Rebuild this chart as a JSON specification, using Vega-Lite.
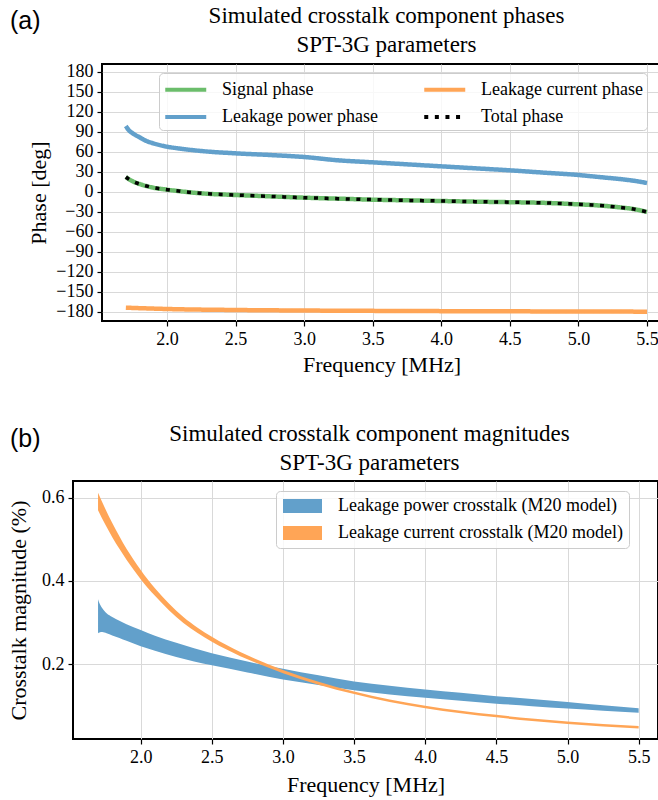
{
  "$schema": "https://vega.github.io/schema/vega-lite/v6.json",
  "padding": {"left": 3, "top": 3, "right": 0, "bottom": 5},
  "background": "white",
  "config": {
    "font": "Liberation Serif",
    "view": {"stroke": "black", "strokeWidth": 2},
    "axis": {"labelFont": "Liberation Serif", "labelFontSize": 18, "labelColor": "black", "titleFont": "Liberation Serif", "titleFontSize": 22, "titleFontWeight": "normal", "titleColor": "black", "domain": false, "tickColor": "black", "tickSize": 5, "tickWidth": 1.2, "gridColor": "#d9d9d9", "gridWidth": 1, "labelPadding": 4},
    "title": {"font": "Liberation Serif", "fontSize": 23, "fontWeight": "normal", "color": "black"},
    "legend": {"labelFont": "Liberation Serif", "labelFontSize": 18, "labelColor": "black", "labelLimit": 400, "fillColor": "rgba(255,255,255,0.8)", "strokeColor": "#cccccc", "cornerRadius": 4}
  },
  "datasets": {
    "phase": [
      {"f": 1.7, "series": "Signal phase", "phase": 22},
      {"f": 1.72, "series": "Signal phase", "phase": 19},
      {"f": 1.75, "series": "Signal phase", "phase": 15.5},
      {"f": 1.8, "series": "Signal phase", "phase": 11.5},
      {"f": 1.85, "series": "Signal phase", "phase": 8.5},
      {"f": 1.9, "series": "Signal phase", "phase": 6},
      {"f": 2.0, "series": "Signal phase", "phase": 3},
      {"f": 2.1, "series": "Signal phase", "phase": 0.5},
      {"f": 2.25, "series": "Signal phase", "phase": -2.5},
      {"f": 2.5, "series": "Signal phase", "phase": -5},
      {"f": 2.75, "series": "Signal phase", "phase": -7},
      {"f": 3.0, "series": "Signal phase", "phase": -9},
      {"f": 3.25, "series": "Signal phase", "phase": -10.5},
      {"f": 3.5, "series": "Signal phase", "phase": -12},
      {"f": 3.75, "series": "Signal phase", "phase": -13},
      {"f": 4.0, "series": "Signal phase", "phase": -14},
      {"f": 4.25, "series": "Signal phase", "phase": -15},
      {"f": 4.5, "series": "Signal phase", "phase": -15.8},
      {"f": 4.75, "series": "Signal phase", "phase": -16.8},
      {"f": 5.0, "series": "Signal phase", "phase": -19},
      {"f": 5.1, "series": "Signal phase", "phase": -20},
      {"f": 5.2, "series": "Signal phase", "phase": -21.5},
      {"f": 5.3, "series": "Signal phase", "phase": -23.5},
      {"f": 5.4, "series": "Signal phase", "phase": -26},
      {"f": 5.5, "series": "Signal phase", "phase": -30.5},
      {"f": 1.7, "series": "Total phase", "phase": 22},
      {"f": 1.72, "series": "Total phase", "phase": 19},
      {"f": 1.75, "series": "Total phase", "phase": 15.5},
      {"f": 1.8, "series": "Total phase", "phase": 11.5},
      {"f": 1.85, "series": "Total phase", "phase": 8.5},
      {"f": 1.9, "series": "Total phase", "phase": 6},
      {"f": 2.0, "series": "Total phase", "phase": 3},
      {"f": 2.1, "series": "Total phase", "phase": 0.5},
      {"f": 2.25, "series": "Total phase", "phase": -2.5},
      {"f": 2.5, "series": "Total phase", "phase": -5},
      {"f": 2.75, "series": "Total phase", "phase": -7},
      {"f": 3.0, "series": "Total phase", "phase": -9},
      {"f": 3.25, "series": "Total phase", "phase": -10.5},
      {"f": 3.5, "series": "Total phase", "phase": -12},
      {"f": 3.75, "series": "Total phase", "phase": -13},
      {"f": 4.0, "series": "Total phase", "phase": -14},
      {"f": 4.25, "series": "Total phase", "phase": -15},
      {"f": 4.5, "series": "Total phase", "phase": -15.8},
      {"f": 4.75, "series": "Total phase", "phase": -16.8},
      {"f": 5.0, "series": "Total phase", "phase": -19},
      {"f": 5.1, "series": "Total phase", "phase": -20},
      {"f": 5.2, "series": "Total phase", "phase": -21.5},
      {"f": 5.3, "series": "Total phase", "phase": -23.5},
      {"f": 5.4, "series": "Total phase", "phase": -26},
      {"f": 5.5, "series": "Total phase", "phase": -30.5},
      {"f": 1.7, "series": "Leakage power phase", "phase": 98.5},
      {"f": 1.72, "series": "Leakage power phase", "phase": 92.5},
      {"f": 1.75, "series": "Leakage power phase", "phase": 87.5},
      {"f": 1.8, "series": "Leakage power phase", "phase": 81.5},
      {"f": 1.85, "series": "Leakage power phase", "phase": 76},
      {"f": 1.9, "series": "Leakage power phase", "phase": 72.5},
      {"f": 2.0, "series": "Leakage power phase", "phase": 67.5},
      {"f": 2.1, "series": "Leakage power phase", "phase": 64.5},
      {"f": 2.25, "series": "Leakage power phase", "phase": 61},
      {"f": 2.5, "series": "Leakage power phase", "phase": 57.5},
      {"f": 2.75, "series": "Leakage power phase", "phase": 55},
      {"f": 3.0, "series": "Leakage power phase", "phase": 52},
      {"f": 3.25, "series": "Leakage power phase", "phase": 47},
      {"f": 3.5, "series": "Leakage power phase", "phase": 44},
      {"f": 3.75, "series": "Leakage power phase", "phase": 41},
      {"f": 4.0, "series": "Leakage power phase", "phase": 38},
      {"f": 4.25, "series": "Leakage power phase", "phase": 35},
      {"f": 4.5, "series": "Leakage power phase", "phase": 32},
      {"f": 4.75, "series": "Leakage power phase", "phase": 28.5},
      {"f": 5.0, "series": "Leakage power phase", "phase": 25},
      {"f": 5.1, "series": "Leakage power phase", "phase": 23},
      {"f": 5.2, "series": "Leakage power phase", "phase": 21},
      {"f": 5.3, "series": "Leakage power phase", "phase": 19},
      {"f": 5.4, "series": "Leakage power phase", "phase": 16.5},
      {"f": 5.5, "series": "Leakage power phase", "phase": 13},
      {"f": 1.7, "series": "Leakage current phase", "phase": -174},
      {"f": 2.0, "series": "Leakage current phase", "phase": -176},
      {"f": 2.5, "series": "Leakage current phase", "phase": -177.5},
      {"f": 3.0, "series": "Leakage current phase", "phase": -178.3},
      {"f": 3.5, "series": "Leakage current phase", "phase": -178.8},
      {"f": 4.0, "series": "Leakage current phase", "phase": -179.2},
      {"f": 4.5, "series": "Leakage current phase", "phase": -179.5},
      {"f": 5.0, "series": "Leakage current phase", "phase": -179.7},
      {"f": 5.5, "series": "Leakage current phase", "phase": -180}
    ],
    "mag": [
      {"f": 1.7, "series": "Leakage power crosstalk (M20 model)", "lo": 0.274, "hi": 0.356},
      {"f": 1.71, "series": "Leakage power crosstalk (M20 model)", "lo": 0.276, "hi": 0.346},
      {"f": 1.73, "series": "Leakage power crosstalk (M20 model)", "lo": 0.277, "hi": 0.334},
      {"f": 1.76, "series": "Leakage power crosstalk (M20 model)", "lo": 0.274, "hi": 0.322},
      {"f": 1.8, "series": "Leakage power crosstalk (M20 model)", "lo": 0.269, "hi": 0.313},
      {"f": 1.85, "series": "Leakage power crosstalk (M20 model)", "lo": 0.263, "hi": 0.304},
      {"f": 1.9, "series": "Leakage power crosstalk (M20 model)", "lo": 0.256, "hi": 0.296},
      {"f": 2.0, "series": "Leakage power crosstalk (M20 model)", "lo": 0.243, "hi": 0.282},
      {"f": 2.1, "series": "Leakage power crosstalk (M20 model)", "lo": 0.232, "hi": 0.268},
      {"f": 2.25, "series": "Leakage power crosstalk (M20 model)", "lo": 0.217, "hi": 0.251},
      {"f": 2.5, "series": "Leakage power crosstalk (M20 model)", "lo": 0.197, "hi": 0.226},
      {"f": 2.75, "series": "Leakage power crosstalk (M20 model)", "lo": 0.18, "hi": 0.206},
      {"f": 3.0, "series": "Leakage power crosstalk (M20 model)", "lo": 0.163, "hi": 0.189},
      {"f": 3.25, "series": "Leakage power crosstalk (M20 model)", "lo": 0.15, "hi": 0.173},
      {"f": 3.5, "series": "Leakage power crosstalk (M20 model)", "lo": 0.137, "hi": 0.158},
      {"f": 3.75, "series": "Leakage power crosstalk (M20 model)", "lo": 0.127, "hi": 0.148},
      {"f": 4.0, "series": "Leakage power crosstalk (M20 model)", "lo": 0.119, "hi": 0.139},
      {"f": 4.25, "series": "Leakage power crosstalk (M20 model)", "lo": 0.112, "hi": 0.131},
      {"f": 4.5, "series": "Leakage power crosstalk (M20 model)", "lo": 0.105, "hi": 0.123},
      {"f": 4.75, "series": "Leakage power crosstalk (M20 model)", "lo": 0.099, "hi": 0.116},
      {"f": 5.0, "series": "Leakage power crosstalk (M20 model)", "lo": 0.093, "hi": 0.109},
      {"f": 5.25, "series": "Leakage power crosstalk (M20 model)", "lo": 0.088, "hi": 0.101},
      {"f": 5.5, "series": "Leakage power crosstalk (M20 model)", "lo": 0.083, "hi": 0.094},
      {"f": 1.7, "series": "Leakage current crosstalk (M20 model)", "lo": 0.57, "hi": 0.612},
      {"f": 1.75, "series": "Leakage current crosstalk (M20 model)", "lo": 0.536, "hi": 0.574},
      {"f": 1.8, "series": "Leakage current crosstalk (M20 model)", "lo": 0.505, "hi": 0.539},
      {"f": 1.85, "series": "Leakage current crosstalk (M20 model)", "lo": 0.477, "hi": 0.507},
      {"f": 1.9, "series": "Leakage current crosstalk (M20 model)", "lo": 0.451, "hi": 0.477},
      {"f": 1.95, "series": "Leakage current crosstalk (M20 model)", "lo": 0.427, "hi": 0.451},
      {"f": 2.0, "series": "Leakage current crosstalk (M20 model)", "lo": 0.404, "hi": 0.426},
      {"f": 2.1, "series": "Leakage current crosstalk (M20 model)", "lo": 0.364, "hi": 0.382},
      {"f": 2.2, "series": "Leakage current crosstalk (M20 model)", "lo": 0.329, "hi": 0.345},
      {"f": 2.3, "series": "Leakage current crosstalk (M20 model)", "lo": 0.299, "hi": 0.313},
      {"f": 2.4, "series": "Leakage current crosstalk (M20 model)", "lo": 0.2745, "hi": 0.2875},
      {"f": 2.5, "series": "Leakage current crosstalk (M20 model)", "lo": 0.254, "hi": 0.266},
      {"f": 2.6, "series": "Leakage current crosstalk (M20 model)", "lo": 0.2355, "hi": 0.2465},
      {"f": 2.7, "series": "Leakage current crosstalk (M20 model)", "lo": 0.219, "hi": 0.229},
      {"f": 2.8, "series": "Leakage current crosstalk (M20 model)", "lo": 0.2045, "hi": 0.2135},
      {"f": 2.9, "series": "Leakage current crosstalk (M20 model)", "lo": 0.191, "hi": 0.199},
      {"f": 3.0, "series": "Leakage current crosstalk (M20 model)", "lo": 0.178, "hi": 0.186},
      {"f": 3.25, "series": "Leakage current crosstalk (M20 model)", "lo": 0.1505, "hi": 0.1575},
      {"f": 3.5, "series": "Leakage current crosstalk (M20 model)", "lo": 0.128, "hi": 0.134},
      {"f": 3.75, "series": "Leakage current crosstalk (M20 model)", "lo": 0.109, "hi": 0.115},
      {"f": 4.0, "series": "Leakage current crosstalk (M20 model)", "lo": 0.094, "hi": 0.1},
      {"f": 4.25, "series": "Leakage current crosstalk (M20 model)", "lo": 0.082, "hi": 0.088},
      {"f": 4.5, "series": "Leakage current crosstalk (M20 model)", "lo": 0.072, "hi": 0.078},
      {"f": 4.75, "series": "Leakage current crosstalk (M20 model)", "lo": 0.063, "hi": 0.069},
      {"f": 5.0, "series": "Leakage current crosstalk (M20 model)", "lo": 0.056, "hi": 0.062},
      {"f": 5.25, "series": "Leakage current crosstalk (M20 model)", "lo": 0.05, "hi": 0.056},
      {"f": 5.5, "series": "Leakage current crosstalk (M20 model)", "lo": 0.045, "hi": 0.051}
    ]
  },
  "spacing": 46,
  "resolve": {"scale": {"color": "independent", "strokeDash": "independent", "x": "independent", "y": "independent"}, "legend": {"color": "independent", "strokeDash": "independent"}},
  "vconcat": [
    {
      "title": {"text": "(a)", "anchor": "start", "font": "Liberation Sans", "fontSize": 25, "dy": 30, "dx": 7, "offset": 0},
      "spacing": 0,
      "hconcat": [
        {"width": 23, "height": 10, "data": {"values": []}, "mark": "point", "view": {"stroke": null}},
        {
          "width": 559,
          "height": 257,
          "title": {"text": ["Simulated crosstalk component phases", "SPT-3G parameters"], "anchor": "middle", "lineHeight": 29, "offset": 6, "dx": 5},
          "data": {"name": "phase"},
          "encoding": {
            "x": {"field": "f", "type": "quantitative", "title": "Frequency [MHz]", "scale": {"domain": [1.526, 5.602], "nice": false, "zero": false}, "axis": {"values": [2.0, 2.5, 3.0, 3.5, 4.0, 4.5, 5.0, 5.5], "format": ".1f", "titlePadding": 6}},
            "y": {"field": "phase", "type": "quantitative", "title": "Phase [deg]", "scale": {"domain": [-194, 191.5], "nice": false, "zero": false}, "axis": {"values": [-180, -150, -120, -90, -60, -30, 0, 30, 60, 90, 120, 150, 180], "titlePadding": 5}},
            "color": {"field": "series", "type": "nominal", "scale": {"domain": ["Signal phase", "Leakage power phase", "Leakage current phase", "Total phase"], "range": ["#6bbd6b", "#62a0cb", "#ffa556", "#000000"]}, "legend": {"title": null, "orient": "none", "legendX": 156, "legendY": 9, "columns": 2, "symbolType": "M-1,0L3,0", "symbolSize": 420, "symbolStrokeWidth": 4, "labelOffset": 34, "columnPadding": 38, "rowPadding": 5.5, "padding": 4}},
            "strokeDash": {"field": "series", "type": "nominal", "scale": {"domain": ["Signal phase", "Leakage power phase", "Leakage current phase", "Total phase"], "range": [[1, 0], [1, 0], [1, 0], [4, 6.6]]}, "legend": {"title": null, "orient": "none", "legendX": 156, "legendY": 9, "columns": 2, "symbolType": "M-1,0L3,0", "symbolSize": 420, "symbolStrokeWidth": 4, "labelOffset": 34, "columnPadding": 38, "rowPadding": 5.5, "padding": 4}}
          },
          "layer": [
            {"transform": [{"filter": "datum.series !== 'Total phase'"}], "mark": {"type": "line", "strokeWidth": 4.5, "interpolate": "monotone", "strokeCap": "butt"}},
            {"transform": [{"filter": "datum.series === 'Total phase'"}], "mark": {"type": "line", "strokeWidth": 3.5, "interpolate": "monotone", "strokeCap": "butt"}}
          ]
        }
      ]
    },
    {
      "title": {"text": "(b)", "anchor": "start", "font": "Liberation Sans", "fontSize": 25, "dy": 30, "dx": 7, "offset": 0},
      "spacing": 0,
      "hconcat": [
        {"width": 3, "height": 10, "data": {"values": []}, "mark": "point", "view": {"stroke": null}},
        {
          "width": 585,
          "height": 258,
          "title": {"text": ["Simulated crosstalk component magnitudes", "SPT-3G parameters"], "anchor": "middle", "lineHeight": 29, "offset": 6, "dx": 4},
          "data": {"name": "mag"},
          "encoding": {
            "x": {"field": "f", "type": "quantitative", "title": "Frequency [MHz]", "scale": {"domain": [1.524, 5.636], "nice": false, "zero": false}, "axis": {"values": [2.0, 2.5, 3.0, 3.5, 4.0, 4.5, 5.0, 5.5], "format": ".1f", "titlePadding": 8}},
            "y": {"field": "lo", "type": "quantitative", "title": "Crosstalk magnitude (%)", "scale": {"domain": [0.02, 0.64], "nice": false, "zero": false}, "axis": {"values": [0.2, 0.4, 0.6], "format": ".1f", "titlePadding": 11}},
            "y2": {"field": "hi"},
            "color": {"field": "series", "type": "nominal", "scale": {"domain": ["Leakage power crosstalk (M20 model)", "Leakage current crosstalk (M20 model)"], "range": ["#62a0cb", "#ffa556"]}, "legend": {"title": null, "orient": "none", "legendX": 273, "legendY": 10, "symbolType": "M-1,-0.875L3.875,-0.875L3.875,0.875L-1,0.875Z", "symbolSize": 256, "symbolStrokeWidth": 0, "labelOffset": 38, "rowPadding": 9, "padding": 6}}
          },
          "layer": [
            {"transform": [{"filter": "datum.series === 'Leakage power crosstalk (M20 model)'"}], "mark": {"type": "area", "interpolate": "monotone"}},
            {"transform": [{"filter": "datum.series === 'Leakage current crosstalk (M20 model)'"}], "mark": {"type": "area", "interpolate": "monotone"}}
          ]
        }
      ]
    }
  ]
}
